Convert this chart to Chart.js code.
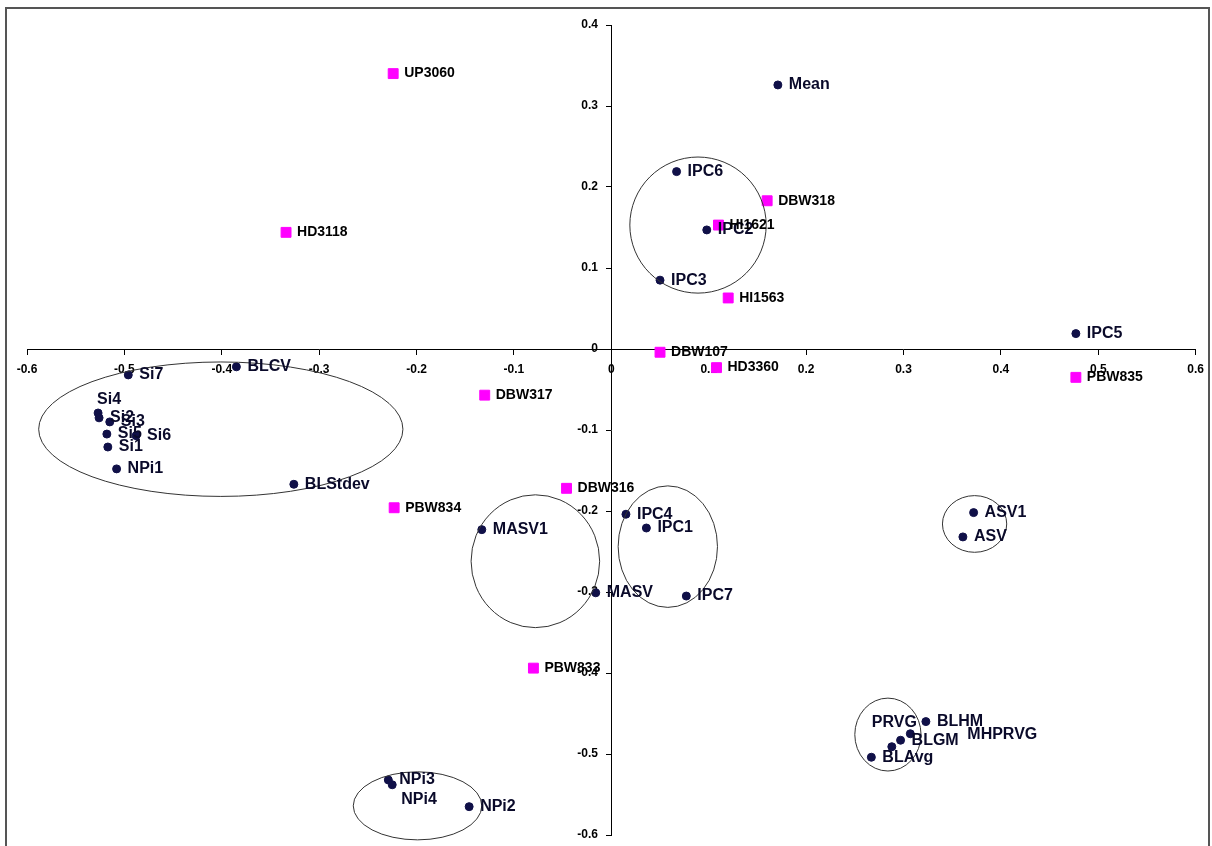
<!DOCTYPE html>
<html>
<head>
<meta charset="utf-8">
<script src="https://cdn.jsdelivr.net/npm/chart.js@4"></script>
<style>
  html, body { margin: 0; padding: 0; background: #fff; }
  #wrap { width: 1212px; height: 846px; }
</style>
</head>
<body>
<div id="wrap"><canvas id="myChart" width="1212" height="846"></canvas></div>
<script>
// genotypes / traits (navy dots)
const traitNames = ['Mean', 'IPC6', 'IPC2', 'IPC3', 'IPC5', 'BLCV', 'Si7', 'Si4', 'Si2', 'Si3',
  'Si5', 'Si6', 'Si1', 'NPi1', 'BLStdev', 'MASV1', 'MASV', 'IPC4', 'IPC1', 'IPC7',
  'ASV1', 'ASV', 'BLHM', 'MHPRVG', 'BLGM', 'PRVG', 'BLAvg', 'NPi3', 'NPi4', 'NPi2'];
const traitX = [0.171, 0.067, 0.098, 0.050, 0.477, -0.385, -0.496, -0.527, -0.526, -0.515,
  -0.518, -0.488, -0.517, -0.508, -0.326, -0.133, -0.016, 0.015, 0.036, 0.077,
  0.372, 0.361, 0.323, 0.307, 0.297, 0.288, 0.267, -0.229, -0.225, -0.146];
const traitY = [0.326, 0.219, 0.147, 0.085, 0.019, -0.022, -0.032, -0.079, -0.085, -0.090,
  -0.105, -0.107, -0.121, -0.148, -0.167, -0.223, -0.301, -0.204, -0.221, -0.305,
  -0.202, -0.232, -0.460, -0.475, -0.483, -0.491, -0.504, -0.532, -0.538, -0.565];

// varieties (magenta squares)
const varietyNames = ['UP3060', 'HD3118', 'DBW318', 'HI1621', 'HI1563', 'DBW107', 'HD3360',
  'PBW835', 'DBW317', 'DBW316', 'PBW834', 'PBW833'];
const varietyX = [-0.224, -0.334, 0.160, 0.110, 0.120, 0.050, 0.108, 0.477, -0.130, -0.046, -0.223, -0.080];
const varietyY = [0.340, 0.144, 0.183, 0.153, 0.063, -0.004, -0.023, -0.035, -0.057, -0.172, -0.196, -0.394];

// axis ticks
const xTicks = [-0.6, -0.5, -0.4, -0.3, -0.2, -0.1, 0, 0.1, 0.2, 0.3, 0.4, 0.5, 0.6];
const yTicks = [-0.6, -0.5, -0.4, -0.3, -0.2, -0.1, 0, 0.1, 0.2, 0.3, 0.4];

// groups circled on the plot (centre x, centre y, radius x, radius y in axis units)
const groupCX = [-0.401, 0.089, -0.078, 0.058, 0.373, 0.284, -0.199];
const groupCY = [-0.099, 0.153, -0.262, -0.244, -0.216, -0.476, -0.564];
const groupRX = [0.187, 0.070, 0.066, 0.051, 0.033, 0.034, 0.066];
const groupRY = [0.083, 0.084, 0.082, 0.075, 0.035, 0.045, 0.042];

// a few labels that were moved by hand in the original
const labelShift = {
  Si4: [-1, -13],
  MHPRVG: [57, 1],
  PRVG: [-20, -24],
  NPi4: [9, 15],
};

const toPoints = (xs, ys) => xs.map((x, i) => ({ x, y: ys[i] }));
const fmt = (v) => {
  const r = Math.round(v * 10) / 10;
  return r === 0 ? '0' : r.toFixed(1);
};

const pointLabels = {
  id: 'pointLabels',
  afterDatasetsDraw(chart) {
    const { ctx } = chart;
    ctx.save();
    ctx.textBaseline = 'middle';
    chart.data.datasets.forEach((ds, di) => {
      const meta = chart.getDatasetMeta(di);
      ctx.font = ds.labelFont;
      ctx.fillStyle = ds.labelColor;
      meta.data.forEach((pt, i) => {
        const name = ds.names[i];
        const s = labelShift[name] || [11, 0];
        ctx.fillText(name, pt.x + s[0], pt.y + s[1]);
      });
    });
    ctx.restore();
  },
};

const groupRings = {
  id: 'groupRings',
  afterDatasetsDraw(chart) {
    const { ctx } = chart;
    const xs = chart.scales.x;
    const ys = chart.scales.y;
    ctx.save();
    ctx.strokeStyle = '#333';
    ctx.lineWidth = 1;
    groupCX.forEach((cx, i) => {
      const px = xs.getPixelForValue(cx);
      const py = ys.getPixelForValue(groupCY[i]);
      const rx = Math.abs(xs.getPixelForValue(cx + groupRX[i]) - px);
      const ry = Math.abs(ys.getPixelForValue(groupCY[i] + groupRY[i]) - py);
      ctx.beginPath();
      ctx.ellipse(px, py, rx, ry, 0, 0, Math.PI * 2);
      ctx.stroke();
    });
    ctx.restore();
  },
};

const frame = {
  id: 'frame',
  afterDraw(chart) {
    const { ctx } = chart;
    ctx.save();
    ctx.strokeStyle = '#555';
    ctx.lineWidth = 2;
    ctx.strokeRect(6, 8, 1203, 900);
    ctx.restore();
  },
};

const tickFont = { family: 'Liberation Sans, Arial, sans-serif', size: 12, weight: 'bold' };

// eslint-disable-next-line no-new
new Chart(document.getElementById('myChart'), {
  type: 'scatter',
  data: {
    datasets: [
      {
        label: 'traits',
        names: traitNames,
        data: toPoints(traitX, traitY),
        pointStyle: 'circle',
        pointRadius: 4,
        backgroundColor: '#101048',
        borderColor: '#101048',
        labelFont: 'bold 16px "Liberation Sans", Arial, sans-serif',
        labelColor: '#0a0a2a',
      },
      {
        label: 'varieties',
        names: varietyNames,
        data: toPoints(varietyX, varietyY),
        pointStyle: 'rect',
        pointRadius: 7,
        backgroundColor: '#ff00ff',
        borderColor: '#ff00ff',
        labelFont: 'bold 14px "Liberation Sans", Arial, sans-serif',
        labelColor: '#000',
      },
    ],
  },
  options: {
    responsive: false,
    animation: false,
    layout: { padding: { left: 27, right: 15, top: 25, bottom: 11 } },
    plugins: {
      legend: { display: false },
      tooltip: { enabled: false },
    },
    scales: {
      x: {
        type: 'linear',
        position: { y: 0 },
        min: -0.6,
        max: 0.6,
        afterBuildTicks: (axis) => { axis.ticks = xTicks.map((v) => ({ value: v })); },
        ticks: { color: '#000', font: tickFont, padding: 8, maxRotation: 0, callback: fmt },
        grid: { drawOnChartArea: false, drawTicks: true, tickLength: 5, color: '#000' },
        border: { color: '#000', width: 1 },
      },
      y: {
        type: 'linear',
        position: { x: 0 },
        min: -0.6,
        max: 0.4,
        afterBuildTicks: (axis) => { axis.ticks = yTicks.map((v) => ({ value: v })); },
        // centred y axis puts labels right against the line, pad with spaces
        ticks: { color: '#000', font: tickFont, callback: (v) => fmt(v) + '    ' },
        grid: { drawOnChartArea: false, drawTicks: true, tickLength: 5, color: '#000' },
        border: { color: '#000', width: 1 },
      },
    },
  },
  plugins: [groupRings, pointLabels, frame],
});
</script>
</body>
</html>
